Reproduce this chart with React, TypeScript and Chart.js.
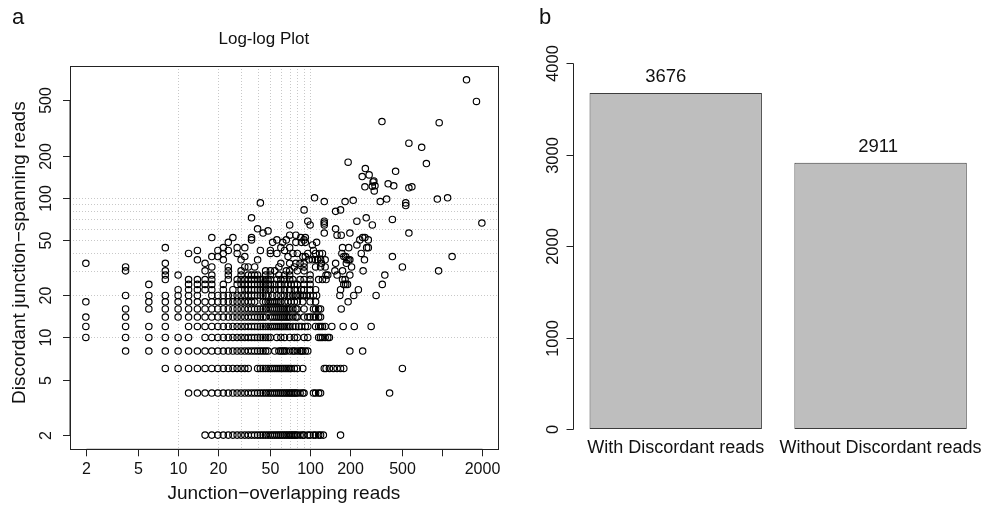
import React, { useEffect, useRef } from "react";
import { Chart, registerables } from "chart.js";
Chart.register(...registerables);

// ---------- Panel a: log-log scatter (x = junction-overlapping reads, y = discordant junction-spanning reads)
// Dense rows: for each even y value, the x values of points on that row
const rowY = [2, 4, 6, 8, 10, 12, 14, 16, 18, 20, 22, 24, 26, 28, 30, 32, 34, 36, 38, 40];
const row2 = [16,18,20,22,24,26,28,30,32,34,36,38,40,42,44,46,48,50,52,54,56,58,60,62,64,66,68,70,72,74,76,78,80,84,88,90,96,100,106,110,116,120,126,170];
const row4 = [12,14,16,18,20,22,24,26,28,30,32,34,36,38,40,42,44,46,48,50,52,54,56,58,60,62,64,66,68,70,72,74,76,78,80,84,88,90,106,110,116,120,400];
const row6 = [8,10,12,14,16,18,20,22,24,26,28,30,32,34,40,42,44,46,48,50,52,54,56,58,60,62,64,66,68,70,72,76,80,88,128,132,140,150,160,170,180,500];
const row8 = [4,6,8,10,12,14,16,18,20,22,24,26,28,30,32,34,36,38,40,42,44,46,48,54,58,60,62,64,66,70,74,76,80,84,86,88,92,96,200,250];
const row10 = [2,4,6,8,10,12,16,18,20,22,24,26,28,30,32,34,36,38,40,42,44,46,48,50,56,60,64,70,76,80,90,96,116,120,124,130,136,140];
const row12 = [2,4,6,8,12,14,16,18,20,22,24,26,28,30,32,34,36,38,40,42,44,46,48,50,52,54,56,58,60,62,64,66,68,70,74,78,82,86,92,96,110,116,120,124,130,146,178,216,290];
const row14 = [2,4,8,10,12,14,16,18,20,22,24,26,28,30,32,34,36,38,40,42,44,46,50,52,54,56,58,60,62,64,66,68,70,74,78,80,90,96,100,106,110,116,120];
const row16 = [4,6,8,10,12,14,16,18,20,22,24,26,28,30,32,34,36,38,40,42,44,46,48,50,52,54,56,58,60,62,64,66,68,70,74,78,80,90,106,110,116,120,172];
const row18 = [2,6,8,10,12,14,16,18,20,22,24,26,28,30,32,34,36,38,44,46,48,50,52,54,56,58,60,64,68,72,76,80,88,100,110,194];
const row20 = [4,6,8,10,12,14,18,20,22,24,26,28,30,32,34,36,38,40,42,44,46,48,52,56,60,64,68,70,74,78,80,84,88,90,94,100,106,112,168,214,316];
const row22 = [10,12,14,16,18,22,26,30,32,34,36,38,40,42,44,46,48,50,54,58,60,64,70,76,80,86,90,100,110,170,232];
const row24 = [6,12,14,16,18,22,28,30,32,34,36,38,40,42,44,46,48,50,54,58,60,64,68,72,76,80,90,100,180,186,192,352];
const row26 = [8,12,14,16,18,24,28,30,32,34,36,38,40,42,44,46,48,50,56,60,64,70,74,84,90,100,116,124,132,176,184];
const row28 = [8,10,18,24,30,34,36,38,40,46,50,58,64,70,100,132,136,160,200,368];
const row30 = [4,8,16,24,30,46,50,54,66,70,80,90,154,176,252,940];
const row32 = [4,18,24,32,34,38,58,76,90,110,120,130,206,500];
const row34 = [2,8,16,60,70,78,84,90,122,156,188];
const row36 = [14,22,30,40,98,104,110,114,120,130,190,196,200,258];
const row38 = [18,20,32,68,88,92,180,186,420,1190];
const row40 = [12,22,28,50,56,74,80,96,110,118,124,174,244];
const rowX = [row2,row4,row6,row8,row10,row12,row14,row16,row18,row20,row22,row24,row26,row28,row30,row32,row34,row36,row38,row40];

// Scattered points above y = 40
const looseX = [14,20,24,42,50,64,106, 8,22,28,32,60,70,176,196,268,276, 226,104, 24,52,62,78,86,92,112, 36,56,66,90,238,276, 18,26,36,85,92,250,260, 70,78,160,172, 44,128,200,560, 48, 40,156, 70,100,128,296, 128,2000, 96,128,226, 420, 36,266, 156,90,170, 530,42,530, 128,184,340, 212,920,380, 108,1100, 306,560,260,590,296,310,430,390,304,300, 248,280,444,262,760,194,700,560,950,350,1820,1530];
const looseY = [42,42,42,42,42,42,42, 44,44,44,44,44,44,44,44,44,44, 46,46, 48,48,48,48,48,48,48, 50,50,50,50,50,50, 52,52,52,52,52,52,52, 54,54,54,54, 56,56,56,56, 58, 60,60, 64,64,64,64, 66,66, 68,68,68, 70, 72,72, 80,82,82, 88,92,92, 94,94,94, 96,98,98, 100,100, 112,118,120,120,121,122,122,126,132,130, 142,146,155,162,176,180,230,246,345,352,490,700];

const xTickValues = [2, 5, 10, 20, 50, 100, 200, 500, 1000, 2000];
const xTickLabels = ["2", "5", "10", "20", "50", "100", "200", "500", "", "2000"];
const yTickValues = [2, 5, 10, 20, 50, 100, 200, 500];
const yTickLabels = ["2", "5", "10", "20", "50", "100", "200", "500"];
const gridValues = [10, 20, 30, 40, 50, 60, 70, 80, 90, 100];

// ---------- Panel b: bar chart
const barCategories = ["With Discordant reads", "Without Discordant reads"];
const barValues = [3676, 2911];
const barTicks = [0, 1000, 2000, 3000, 4000];

const FONT = '"Liberation Sans", Arial, Helvetica, sans-serif';
const valueLabelShift = [-10, -2.5];

const scatterPoints: { x: number; y: number }[] = [];
rowX.forEach((xs, i) => xs.forEach((x) => scatterPoints.push({ x, y: rowY[i] })));
looseX.forEach((x, i) => scatterPoints.push({ x, y: looseY[i] }));

const scatterDecor = {
  id: "scatterDecor",
  beforeDatasetsDraw(chart: any) {
    const { ctx, chartArea: a, scales } = chart;
    const x = scales.x, y = scales.y;
    ctx.save();
    ctx.strokeStyle = "#c8c8c8";
    ctx.lineWidth = 1;
    ctx.setLineDash([1, 2]);
    gridValues.forEach((v) => {
      const px = Math.round(x.getPixelForValue(v)) + 0.5;
      ctx.beginPath(); ctx.moveTo(px, a.top); ctx.lineTo(px, a.bottom); ctx.stroke();
      const py = Math.round(y.getPixelForValue(v)) + 0.5;
      ctx.beginPath(); ctx.moveTo(a.left, py); ctx.lineTo(a.right, py); ctx.stroke();
    });
    ctx.restore();
  },
  afterDraw(chart: any) {
    const { ctx, chartArea: a, scales } = chart;
    const x = scales.x, y = scales.y;
    ctx.save();
    ctx.strokeStyle = "#222";
    ctx.lineWidth = 1;
    ctx.setLineDash([]);
    ctx.strokeRect(Math.round(a.left) + 0.5, Math.round(a.top) + 0.5, Math.round(a.right - a.left), Math.round(a.bottom - a.top));
    ctx.fillStyle = "#111";
    ctx.font = `16px ${FONT}`;
    // x ticks
    const xs = xTickValues.map((v) => Math.round(x.getPixelForValue(v)) + 0.5);
    ctx.beginPath();
    ctx.moveTo(xs[0], a.bottom); ctx.lineTo(xs[xs.length - 1], a.bottom);
    xs.forEach((px) => { ctx.moveTo(px, a.bottom); ctx.lineTo(px, a.bottom + 7); });
    ctx.stroke();
    ctx.textAlign = "center";
    ctx.textBaseline = "middle";
    xs.forEach((px, i) => ctx.fillText(xTickLabels[i], px, 470));
    // y ticks
    const ys = yTickValues.map((v) => Math.round(y.getPixelForValue(v)) + 0.5);
    ctx.beginPath();
    ctx.moveTo(a.left, ys[0]); ctx.lineTo(a.left, ys[ys.length - 1]);
    ys.forEach((py) => { ctx.moveTo(a.left - 7, py); ctx.lineTo(a.left, py); });
    ctx.stroke();
    ys.forEach((py, i) => {
      ctx.save(); ctx.translate(47, py); ctx.rotate(-Math.PI / 2);
      ctx.fillText(yTickLabels[i], 0, 0); ctx.restore();
    });
    // titles
    ctx.font = `19px ${FONT}`;
    ctx.fillText("Junction\u2212overlapping reads", (a.left + a.right) / 2, 494);
    ctx.save(); ctx.translate(20, (a.top + a.bottom) / 2 - 5); ctx.rotate(-Math.PI / 2);
    ctx.fillText("Discordant junction\u2212spanning reads", 0, 0); ctx.restore();
    ctx.font = `17px ${FONT}`;
    ctx.fillText("Log-log Plot", (a.left + a.right) / 2 - 20, 39);
    ctx.font = `22px ${FONT}`;
    ctx.fillText("a", 18, 18);
    ctx.restore();
  },
};

const barDecor = {
  id: "barDecor",
  afterDraw(chart: any) {
    const { ctx, chartArea: a, scales } = chart;
    const x = scales.x, y = scales.y;
    ctx.save();
    ctx.strokeStyle = "#222";
    ctx.fillStyle = "#111";
    ctx.lineWidth = 1;
    const ys = barTicks.map((v) => Math.round(y.getPixelForValue(v)) + 0.5);
    const ax = Math.round(a.left) + 0.5;
    ctx.beginPath();
    ctx.moveTo(ax, ys[0]); ctx.lineTo(ax, ys[ys.length - 1]);
    ys.forEach((py) => { ctx.moveTo(ax - 7, py); ctx.lineTo(ax, py); });
    ctx.stroke();
    ctx.font = `16.5px ${FONT}`;
    ctx.textAlign = "center";
    ctx.textBaseline = "middle";
    ys.forEach((py, i) => {
      ctx.save(); ctx.translate(a.left - 20, py); ctx.rotate(-Math.PI / 2);
      ctx.fillText(String(barTicks[i]), 0, 0); ctx.restore();
    });
    ctx.font = `18.5px ${FONT}`;
    barValues.forEach((v, i) => {
      const px = x.getPixelForValue(i);
      ctx.fillText(String(v), px + valueLabelShift[i], y.getPixelForValue(v) - 16);
    });
    ctx.font = `18px ${FONT}`;
    barValues.forEach((v, i) => {
      ctx.fillText(barCategories[i], x.getPixelForValue(i), 448);
    });
    ctx.font = `22px ${FONT}`;
    ctx.fillText("b", 25, 18);
    ctx.restore();
  },
};

export default function App() {
  const leftRef = useRef<HTMLCanvasElement>(null);
  const rightRef = useRef<HTMLCanvasElement>(null);

  useEffect(() => {
    const left = new Chart(leftRef.current!, {
      type: "scatter",
      data: {
        datasets: [{
          data: scatterPoints,
          pointStyle: "circle",
          pointRadius: 3.2,
          borderColor: "#000",
          backgroundColor: "rgba(0,0,0,0)",
          borderWidth: 1.15,
        }],
      },
      options: {
        animation: false,
        responsive: false,
        maintainAspectRatio: false,
        events: [],
        layout: { padding: { left: 0, top: 66, right: 22.3, bottom: 0 } },
        plugins: { legend: { display: false }, tooltip: { enabled: false }, title: { display: false } },
        scales: {
          x: {
            type: "logarithmic", min: 1.517, max: 2636,
            grid: { display: false }, border: { display: false }, ticks: { display: false },
            afterFit: (s: any) => { s.height = 55.7; },
          },
          y: {
            type: "logarithmic", min: 1.583, max: 879,
            grid: { display: false }, border: { display: false }, ticks: { display: false },
            afterFit: (s: any) => { s.width = 70; },
          },
        },
      } as any,
      plugins: [scatterDecor],
    });
    const right = new Chart(rightRef.current!, {
      type: "bar",
      data: {
        labels: barCategories,
        datasets: [{
          data: barValues,
          backgroundColor: "#bebebe",
          borderColor: "#3c3c3c",
          borderWidth: 1,
          borderSkipped: false,
          barPercentage: 0.8416,
          categoryPercentage: 1,
        }],
      },
      options: {
        animation: false,
        responsive: false,
        maintainAspectRatio: false,
        events: [],
        layout: { padding: { left: 0, top: 48.7, right: 0, bottom: 0 } },
        plugins: { legend: { display: false }, tooltip: { enabled: false }, title: { display: false } },
        scales: {
          x: {
            grid: { display: false }, border: { display: false }, ticks: { display: false },
            afterFit: (s: any) => { s.height = 61.4; },
          },
          y: {
            min: -160, max: 4160,
            grid: { display: false }, border: { display: false }, ticks: { display: false },
            afterFit: (s: any) => { s.width = 53.3; },
          },
        },
      } as any,
      plugins: [barDecor],
    });
    return () => { left.destroy(); right.destroy(); };
  }, []);

  return (
    <div style={{ position: "fixed", left: 0, top: 0, width: 983, height: 505, background: "#fff", overflow: "hidden" }}>
      <canvas ref={leftRef} width={520} height={505} style={{ position: "absolute", left: 0, top: 0, width: 520, height: 505 }} />
      <canvas ref={rightRef} width={463} height={505} style={{ position: "absolute", left: 520, top: 0, width: 463, height: 505 }} />
    </div>
  );
}
